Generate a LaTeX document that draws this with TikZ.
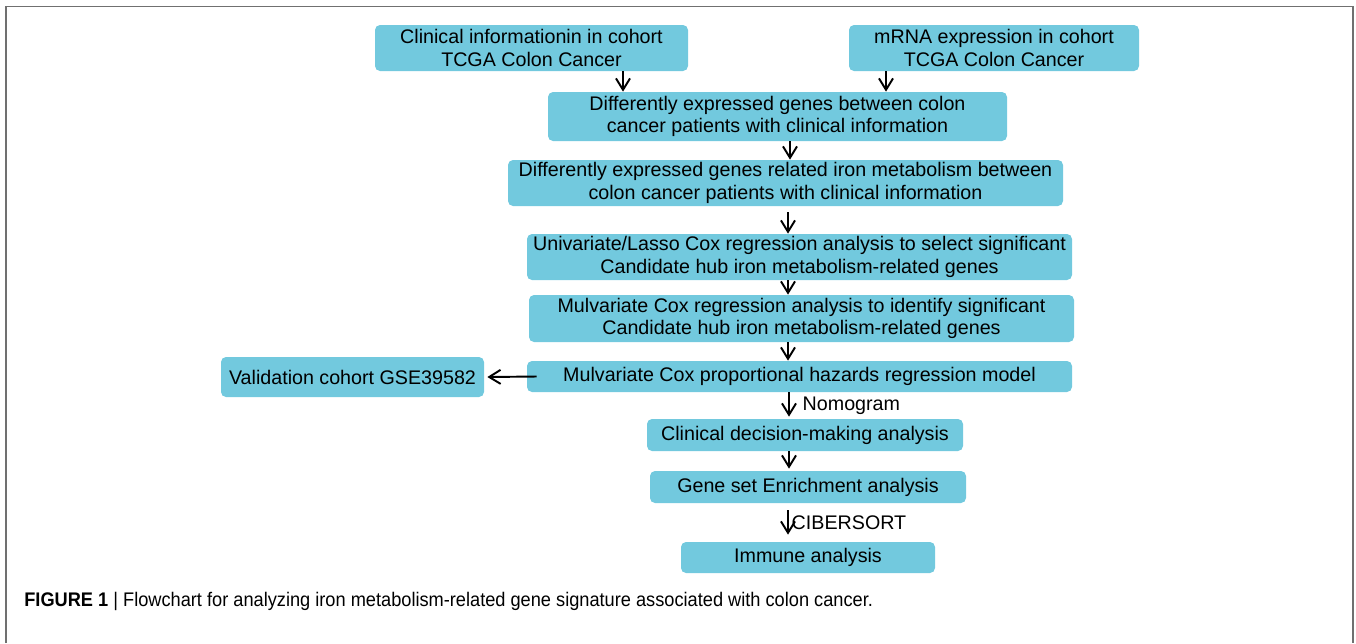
\documentclass[tikz,border=0pt]{standalone}
\usepackage{fontspec}
\setmainfont{Liberation Sans}
\newfontfamily\capfont[FakeStretch=0.925]{Liberation Sans}
\usepackage{tikz}
\usetikzlibrary{arrows.meta}
\definecolor{boxblue}{RGB}{114,201,222}
\definecolor{framegray}{RGB}{112,112,112}

\begin{document}
\begin{tikzpicture}[
		box/.style={fill=boxblue, rounded corners=0.1cm, align=center, inner sep=0pt,
			font=\fontsize{11.2}{12.7}\selectfont},
		arr/.style={-{Straight Barb[length=6.5pt,width=8pt]}, line width=1.1pt},
		lbl/.style={font=\fontsize{11.2}{12.7}\selectfont, inner sep=1pt}
	]
		\useasboundingbox (0,0) rectangle (27.12,-12.86);
		% frame
		\draw [framegray, line width=1.1pt] (0.12,-12.86) -- (0.12,-0.13) -- (27.06,-0.13) -- (27.06,-12.86);
		% boxes
		\node (clin) at (10.63,-0.96) [box, minimum width=6.26cm, minimum height=0.92cm] {Clinical informationin in cohort\\TCGA Colon Cancer};
		\node (mrna) at (19.88,-0.96) [box, minimum width=5.80cm, minimum height=0.92cm] {mRNA expression in cohort\\TCGA Colon Cancer};
		\node (deg) at (15.55,-2.33) [box, minimum width=9.18cm, minimum height=0.98cm] {Differently expressed genes between colon\\cancer patients with clinical information};
		\node (iron) at (15.71,-3.66) [box, minimum width=11.10cm, minimum height=0.92cm] {Differently expressed genes related iron metabolism between\\colon cancer patients with clinical information};
		\node (uni) at (15.99,-5.14) [box, minimum width=10.90cm, minimum height=0.92cm] {Univariate/Lasso Cox regression analysis to select significant\\Candidate hub iron metabolism-related genes};
		\node (multi) at (16.03,-6.37) [box, minimum width=10.90cm, minimum height=0.94cm] {Mulvariate Cox regression analysis to identify significant\\Candidate hub iron metabolism-related genes};
		\node (prop) at (15.99,-7.53) [box, minimum width=10.90cm, minimum height=0.62cm] {Mulvariate Cox proportional hazards regression model};
		\node (valid) at (7.05,-7.54) [box, minimum width=5.26cm, minimum height=0.80cm] {Validation cohort GSE39582};
		\node (cdm) at (16.10,-8.70) [box, minimum width=6.32cm, minimum height=0.64cm] {Clinical decision-making analysis};
		\node (gsea) at (16.16,-9.74) [box, minimum width=6.32cm, minimum height=0.64cm] {Gene set Enrichment analysis};
		\node (immune) at (16.16,-11.15) [box, minimum width=5.08cm, minimum height=0.62cm] {Immune analysis};
		% arrows
		\draw [arr] ([xshift=1.83cm]clin.south) -- ([xshift=1.83cm]clin.south |- deg.north);
		\draw [arr] ([xshift=-2.16cm]mrna.south) -- ([xshift=-2.16cm]mrna.south |- deg.north);
		\draw [arr] ([xshift=0.25cm]deg.south) -- ([xshift=0.25cm]deg.south |- iron.north);
		\draw [arr, shorten <=0.12cm] ([xshift=0.05cm]iron.south) -- ([xshift=0.05cm]iron.south |- uni.north);
		\draw [arr] ([xshift=-0.23cm]uni.south) -- ([xshift=-0.23cm]uni.south |- multi.north);
		\draw [arr] ([xshift=-0.27cm]multi.south) -- ([xshift=-0.27cm]multi.south |- prop.north);
		\draw [arr] ([xshift=0.2cm]prop.west) -- ([xshift=0.06cm]valid.east);
		\draw [arr, shorten >=0.04cm] ([xshift=-0.21cm]prop.south) -- ([xshift=-0.21cm]prop.south |- cdm.north)
			node [lbl, midway, right=0.22cm] (nomo) {Nomogram};
		\draw [arr, shorten >=0.04cm] ([xshift=-0.32cm]cdm.south) -- ([xshift=-0.32cm]cdm.south |- gsea.north);
		\draw [arr, shorten <=0.14cm, shorten >=0.14cm] ([xshift=-0.40cm]gsea.south) -- ([xshift=-0.40cm]gsea.south |- immune.north)
			node [lbl, midway, right=0.02cm] (cibersort) {CIBERSORT};
		% caption
		\node (caption) at (0.48,-12.02) [anchor=west, inner sep=0pt, font=\capfont\fontsize{11.2}{12}\selectfont] {{\bfseries FIGURE 1} | Flowchart for analyzing iron metabolism-related gene signature associated with colon cancer.};
	\end{tikzpicture}
\end{document}
